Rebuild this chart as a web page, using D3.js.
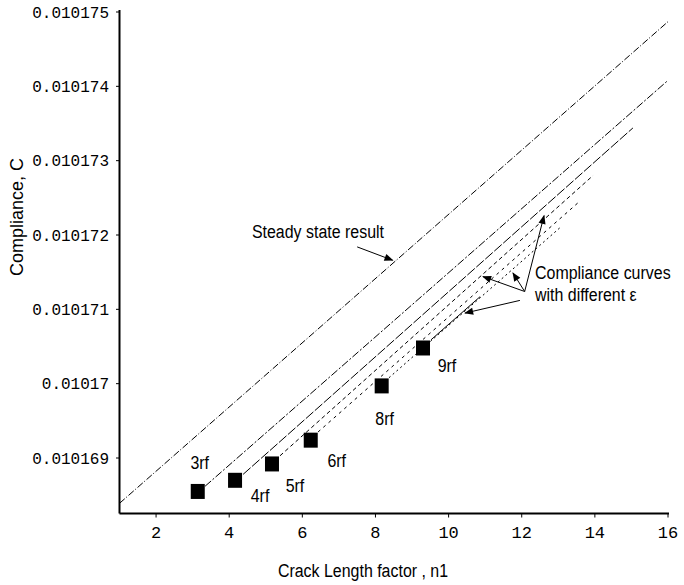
<!DOCTYPE html>
<html>
<head>
<meta charset="utf-8">
<script src="https://cdn.jsdelivr.net/npm/d3@7"></script>
<style>
  body { margin: 0; background: #fff; }
  .tick-label { font-family: "Liberation Mono", "DejaVu Sans Mono", monospace; font-size: 16px; fill: #000; }
  .narrow { font-family: "Liberation Sans", Arial, sans-serif; font-size: 19px; fill: #000; }
</style>
</head>
<body>
<svg id="chart" width="684" height="585"></svg>
<script>
// axis ticks
const xTicks = [2, 4, 6, 8, 10, 12, 14, 16];
const yTicks = [0.010169, 0.01017, 0.010171, 0.010172, 0.010173, 0.010174, 0.010175];

// steady state line (end points)
const steadyX = [1, 16];
const steadyY = [0.01016839, 0.01017487];

// compliance curves, one per rf point (start / end)
const curveX0 = [3.34, 4.38, 5.39, 6.43, 8.37, 9.52];
const curveY0 = [0.01016862, 0.01016878, 0.01016903, 0.01016935, 0.01017008, 0.01017059];
const curveX1 = [16, 15.04, 13.95, 13.6, 13.05, 10.86];
const curveY1 = [0.01017408, 0.01017344, 0.0101728, 0.01017246, 0.0101721, 0.01017117];
const curveDash = ["8,2,2,2", "10,2", "4,3", "3,4", "2,3", null];

// rf markers
const rfLabels = ["3rf", "4rf", "5rf", "6rf", "8rf", "9rf"];
const rfX = [3.14, 4.16, 5.17, 6.23, 8.17, 9.30];
const rfY = [0.01016855, 0.0101687, 0.01016892, 0.01016924, 0.01016997, 0.01017048];
const rfLabelOffset = [[2, -22], [25, 22], [23, 28], [26, 27], [3, 39], [24, 24]];

// annotation arrows (tail -> head, data units)
const arrowTails = [[12.08, 0.01017124], [12.08, 0.01017124], [12.08, 0.01017124], [11.95, 0.01017112]];
const arrowHeads = [[12.61, 0.01017226], [11.76, 0.01017149], [10.94, 0.01017144], [10.45, 0.01017095]];
const steadyArrow = [[7.5, 0.01017184], [8.47, 0.01017166]];

const svg = d3.select("#chart");
const x = d3.scaleLinear().domain([1, 16]).range([119.5, 668]);
const y = d3.scaleLinear().domain([0.010169, 0.010175]).range([458, 12]);
const yBottom = 513.5;

// condensed sans text (stand-in for Arial Narrow)
function narrowText(px, py, str, anchor) {
    return svg.append("g")
        .attr("transform", `translate(${px},${py}) scale(0.84,1)`)
      .append("text").attr("class", "narrow")
        .attr("text-anchor", anchor || "start")
        .text(str);
}

svg.append("defs").append("marker")
    .attr("id", "head")
    .attr("viewBox", "0 0 10 10")
    .attr("refX", 9).attr("refY", 5)
    .attr("markerWidth", 10).attr("markerHeight", 9)
    .attr("markerUnits", "userSpaceOnUse")
    .attr("orient", "auto")
  .append("path").attr("d", "M0,1 L10,5 L0,9 Z").attr("fill", "#000");

// axes
svg.append("line").attr("x1", 119.5).attr("x2", 119.5).attr("y1", 10).attr("y2", yBottom)
    .attr("stroke", "#000").attr("stroke-width", 2);
svg.append("line").attr("x1", 119.5).attr("x2", 669).attr("y1", yBottom).attr("y2", yBottom)
    .attr("stroke", "#000").attr("stroke-width", 2);

svg.selectAll(".ytick").data(yTicks).join("line")
    .attr("x1", 116).attr("x2", 119.5)
    .attr("y1", d => y(d)).attr("y2", d => y(d))
    .attr("stroke", "#000");
svg.selectAll(".ylab").data(yTicks).join("text")
    .attr("class", "tick-label")
    .attr("x", 109).attr("y", d => y(d)).attr("dy", "0.35em")
    .attr("text-anchor", "end")
    .text(d => d3.format(".6")(d));

svg.selectAll(".xtick").data(xTicks).join("line")
    .attr("x1", d => x(d)).attr("x2", d => x(d))
    .attr("y1", yBottom).attr("y2", yBottom + 4)
    .attr("stroke", "#000");
svg.selectAll(".xlab").data(xTicks).join("text")
    .attr("class", "tick-label")
    .style("font-size", "17px")
    .attr("x", d => x(d)).attr("y", 538)
    .attr("text-anchor", "middle")
    .text(d => d);

// titles
narrowText(363, 577, "Crack Length factor , n1", "middle");
svg.append("text")
    .attr("transform", "translate(23,217) rotate(-90)")
    .attr("text-anchor", "middle")
    .style("font-family", "'Liberation Sans', Arial, sans-serif").style("font-size", "18px")
    .text("Compliance, C");

// steady state line
svg.append("line")
    .attr("x1", x(steadyX[0])).attr("y1", y(steadyY[0]))
    .attr("x2", x(steadyX[1])).attr("y2", y(steadyY[1]))
    .attr("stroke", "#000").attr("stroke-width", 1)
    .attr("stroke-dasharray", "7,2,1,2");

// compliance curves
svg.selectAll(".curve").data(rfLabels).join("line")
    .attr("x1", (d, i) => x(curveX0[i])).attr("y1", (d, i) => y(curveY0[i]))
    .attr("x2", (d, i) => x(curveX1[i])).attr("y2", (d, i) => y(curveY1[i]))
    .attr("stroke", "#000").attr("stroke-width", 1)
    .attr("stroke-dasharray", (d, i) => curveDash[i]);

// rf squares + labels
svg.selectAll(".rf").data(rfLabels).join("rect")
    .attr("x", (d, i) => x(rfX[i]) - 7).attr("y", (d, i) => y(rfY[i]) - 7.5)
    .attr("width", 14).attr("height", 15)
    .attr("fill", "#000");
rfLabels.forEach((d, i) => {
    narrowText(x(rfX[i]) + rfLabelOffset[i][0], y(rfY[i]) + rfLabelOffset[i][1], d, "middle");
});

// annotations
narrowText(384, 238, "Steady state result", "end");
svg.append("line")
    .attr("x1", x(steadyArrow[0][0])).attr("y1", y(steadyArrow[0][1]))
    .attr("x2", x(steadyArrow[1][0])).attr("y2", y(steadyArrow[1][1]))
    .attr("stroke", "#000").attr("marker-end", "url(#head)");

svg.selectAll(".arrow").data(arrowHeads).join("line")
    .attr("x1", (d, i) => x(arrowTails[i][0])).attr("y1", (d, i) => y(arrowTails[i][1]))
    .attr("x2", d => x(d[0])).attr("y2", d => y(d[1]))
    .attr("stroke", "#000").attr("marker-end", "url(#head)");

narrowText(535, 279, "Compliance curves");
narrowText(535, 301, "with different \u03b5");
</script>
</body>
</html>
